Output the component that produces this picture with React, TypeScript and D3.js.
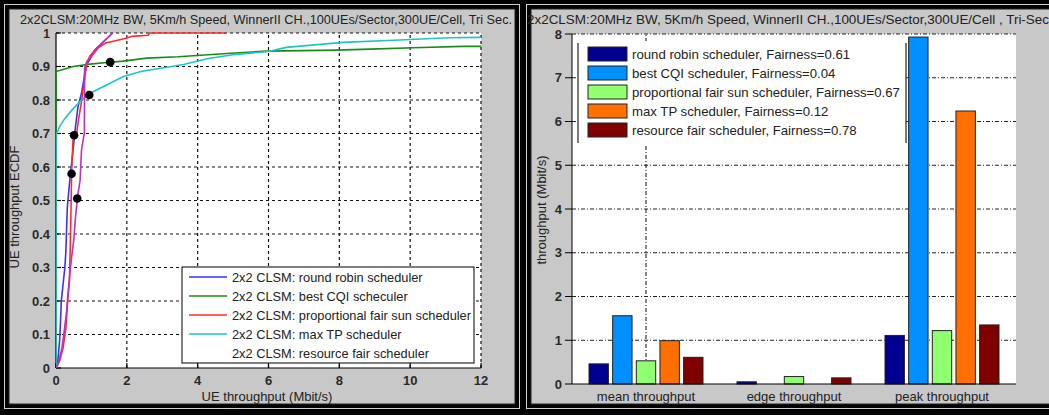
import React from 'react';
import * as d3 from 'd3';

const W = 1049;
const H = 415;
const FONT = '"Liberation Sans", Arial, sans-serif';

const titleLeft = '2x2CLSM:20MHz BW, 5Km/h Speed, WinnerII CH.,100UEs/Sector,300UE/Cell, Tri Sec.';
const titleRight = '2x2CLSM:20MHz BW, 5Km/h Speed, WinnerII CH.,100UEs/Sector,300UE/Cell , Tri-Sec';

// ---------- CDF panel data ----------
const cdfXTicks = [0, 2, 4, 6, 8, 10, 12];
const cdfYTicks = [0, 0.1, 0.2, 0.3, 0.4, 0.5, 0.6, 0.7, 0.8, 0.9, 1];
const cdfYTickLabels = ['0', '0.1', '0.2', '0.3', '0.4', '0.5', '0.6', '0.7', '0.8', '0.9', '1'];
const cdfNames = [
  '2x2 CLSM: round robin scheduler',
  '2x2 CLSM: best CQI scheculer',
  '2x2 CLSM: proportional fair sun scheduler',
  '2x2 CLSM: max TP scheduler',
  '2x2 CLSM: resource fair scheduler',
];
const cdfColors = ['#3333ff', '#1a8a1a', '#ff2a2a', '#20c4c4', '#c030c0'];

const roundRobinCdf: [number, number][] = [
  [0, 0], [0.05, 0.02], [0.1, 0.08], [0.12, 0.12], [0.15, 0.2], [0.2, 0.25], [0.25, 0.3],
  [0.28, 0.35], [0.3, 0.42], [0.32, 0.48], [0.38, 0.55], [0.45, 0.62], [0.5, 0.67],
  [0.55, 0.72], [0.62, 0.78], [0.72, 0.82], [0.8, 0.87], [0.83, 0.9], [0.95, 0.92],
  [1.1, 0.95], [1.3, 0.97], [1.45, 0.985], [1.6, 1.0],
];
const bestCqiCdf: [number, number][] = [
  [0, 0], [0, 0.885], [0.49, 0.9], [0.96, 0.907], [1.43, 0.912], [1.9, 0.916], [2.56, 0.925],
  [3.45, 0.929], [4.83, 0.939], [5.96, 0.946], [7.9, 0.949], [8.87, 0.952], [10.08, 0.956],
  [11.47, 0.96], [12, 0.96],
];
const propFairCdf: [number, number][] = [
  [0, 0], [0.1, 0.02], [0.2, 0.06], [0.28, 0.12], [0.33, 0.2], [0.38, 0.26], [0.4, 0.35],
  [0.42, 0.45], [0.44, 0.58], [0.48, 0.68], [0.58, 0.7], [0.65, 0.75], [0.72, 0.795],
  [0.82, 0.875], [0.88, 0.91], [0.95, 0.93], [1.1, 0.95], [1.4, 0.97], [1.8, 0.98],
  [2.0, 0.985], [2.15, 0.99], [2.6, 0.993], [2.65, 1.0], [4.8, 1.0],
];
const maxTpCdf: [number, number][] = [
  [0, 0], [0, 0.7], [0.02, 0.7], [0.1, 0.72], [0.25, 0.745], [0.49, 0.775], [0.72, 0.8],
  [0.96, 0.82], [1.43, 0.845], [1.9, 0.87], [2.4, 0.885], [3.6, 0.906], [4.3, 0.924],
  [5.0, 0.935], [6.0, 0.945], [6.5, 0.957], [8.1, 0.972], [9.7, 0.979], [11.1, 0.986],
  [12, 0.987],
];
const resFairCdf: [number, number][] = [
  [0, 0], [0.05, 0.01], [0.16, 0.055], [0.22, 0.1], [0.3, 0.17], [0.36, 0.25], [0.44, 0.33],
  [0.5, 0.38], [0.55, 0.45], [0.58, 0.48], [0.62, 0.52], [0.68, 0.56], [0.72, 0.65],
  [0.78, 0.69], [0.8, 0.7], [0.81, 0.895], [0.87, 0.915], [1.0, 0.93], [1.15, 0.95],
  [1.3, 0.97], [1.45, 0.985], [1.6, 1.0],
];
const cdfSeries = [roundRobinCdf, bestCqiCdf, propFairCdf, maxTpCdf, resFairCdf];
// mean-throughput markers [Mbit/s, CDF]
const meanMarkers: [number, number][] = [
  [0.51, 0.695], [1.53, 0.913], [0.44, 0.58], [0.94, 0.815], [0.6, 0.506],
];

// ---------- Bar panel data ----------
const categories = ['mean throughput', 'edge throughput', 'peak throughput'];
const barNames = [
  'round robin scheduler, Fairness=0.61',
  'best CQI scheduler, Fairness=0.04',
  'proportional fair sun scheduler, Fairness=0.67',
  'max TP scheduler, Fairness=0.12',
  'resource fair scheduler, Fairness=0.78',
];
const barColors = ['#000090', '#0090ff', '#90ff70', '#ff7000', '#800000'];
const roundRobinBars = [0.46, 0.05, 1.11];
const bestCqiBars = [1.56, 0, 7.93];
const propFairBars = [0.53, 0.17, 1.22];
const maxTpBars = [0.99, 0, 6.24];
const resFairBars = [0.61, 0.14, 1.35];
const barValues = [roundRobinBars, bestCqiBars, propFairBars, maxTpBars, resFairBars];
const barYTicks = [0, 1, 2, 3, 4, 5, 6, 7, 8];

function Frame({ x0, x1 }: { x0: number; x1: number }) {
  return (
    <g>
      <rect x={x0 + 4.5} y={4.5} width={x1 - x0 - 9} height={H - 11} fill="none" stroke="#d0d0d0" strokeWidth={1} />
      <rect x={x0 + 9} y={9} width={x1 - x0 - 18} height={H - 20} fill="#c8c8c8" stroke="#202020" strokeWidth={1} />
    </g>
  );
}

function CdfPanel() {
  const x = d3.scaleLinear().domain([0, 12]).range([56, 481]);
  const y = d3.scaleLinear().domain([0, 1]).range([368, 33]);
  const line = d3.line<[number, number]>().x((d) => x(d[0])).y((d) => y(d[1]));
  const legY = [277, 296, 315, 334, 353];
  return (
    <g>
      <text x={20} y={23.5} fontSize={12} fill="#222" textLength={492} lengthAdjust="spacingAndGlyphs">{titleLeft}</text>
      <rect x={x(0)} y={y(1)} width={x(12) - x(0)} height={y(0) - y(1)} fill="#fff" />
      <defs>
        <clipPath id="cdfclip">
          <rect x={x(0)} y={y(1) - 1} width={x(12) - x(0)} height={y(0) - y(1) + 1} />
        </clipPath>
      </defs>
      {cdfXTicks.filter((t) => t > 0).map((t) => (
        <line key={'gx' + t} x1={x(t)} x2={x(t)} y1={y(0)} y2={y(1)} stroke="#111" strokeWidth={1.2} strokeDasharray="3,3" />
      ))}
      {cdfYTicks.filter((t) => t > 0).map((t) => (
        <line key={'gy' + t} x1={x(0)} x2={x(12)} y1={y(t)} y2={y(t)} stroke="#111" strokeWidth={1.2} strokeDasharray="3,3" />
      ))}
      <line x1={x(0)} x2={x(0)} y1={y(0)} y2={y(1)} stroke="#000" strokeWidth={1.2} />
      <line x1={x(0)} x2={x(12)} y1={y(0)} y2={y(0)} stroke="#000" strokeWidth={1.2} />
      {cdfYTicks.map((t) => (
        <line key={'ty' + t} x1={x(0)} x2={x(0) + 5} y1={y(t)} y2={y(t)} stroke="#000" strokeWidth={1.2} />
      ))}
      {cdfXTicks.map((t) => (
        <line key={'tx' + t} x1={x(t)} x2={x(t)} y1={y(0)} y2={y(0) - 5} stroke="#000" strokeWidth={1.2} />
      ))}
      <g clipPath="url(#cdfclip)">
        {cdfSeries.map((s, i) => (
          <path key={'c' + i} d={line(s) || ''} fill="none" stroke={cdfColors[i]} strokeWidth={1.6} />
        ))}
      </g>
      {meanMarkers.map((m, i) => (
        <circle key={'m' + i} cx={x(m[0])} cy={y(m[1])} r={4.3} fill="#000" />
      ))}
      {cdfYTicks.map((t, i) => (
        <text key={'ly' + t} x={50} y={y(t) + 4.5} fontSize={t === 1 ? 12 : 13} fontWeight="bold" fill="#2a2a2a" textAnchor="end">{cdfYTickLabels[i]}</text>
      ))}
      {cdfXTicks.map((t) => (
        <text key={'lx' + t} x={x(t)} y={385} fontSize={13} fontWeight="bold" fill="#2a2a2a" textAnchor="middle">{t}</text>
      ))}
      <text x={267} y={401} fontSize={13} fill="#222" textAnchor="middle">UE throughput (Mbit/s)</text>
      <text transform="translate(19,207) rotate(-90)" fontSize={13} fill="#222" textAnchor="middle">UE throughput ECDF</text>
      <rect x={182} y={267} width={292} height={96} fill="#fff" stroke="#000" strokeWidth={1} />
      {cdfNames.map((n, i) => (
        <g key={'lg' + i}>
          {i < 4 && <line x1={189} x2={227} y1={legY[i]} y2={legY[i]} stroke={cdfColors[i]} strokeWidth={1.6} />}
          <text x={232} y={legY[i] + 4.5} fontSize={12.8} fill="#222">{n}</text>
        </g>
      ))}
    </g>
  );
}

function BarPanel() {
  const x = d3.scaleBand<string>().domain(categories).range([572, 1016]).padding(0);
  const bw = x.bandwidth();
  const inner = d3.scaleBand<number>().domain(barNames.map((_, i) => i)).range([bw / 2 - 57, bw / 2 + 57]).paddingInner(0.18).paddingOuter(0);
  const y = d3.scaleLinear().domain([0, 8]).range([384, 34]);
  const legY = [54, 73, 92, 111, 130];
  const meanCx = (x(categories[0]) || 0) + bw / 2;
  return (
    <g>
      <text x={527} y={23.5} fontSize={12.5} fill="#222" textLength={522} lengthAdjust="spacingAndGlyphs">{titleRight}</text>
      <rect x={572} y={y(8)} width={1016 - 572} height={y(0) - y(8)} fill="#fff" />
      {barYTicks.filter((t) => t > 0).map((t) => (
        <line key={'gy' + t} x1={572} x2={1016} y1={y(t)} y2={y(t)} stroke="#222" strokeWidth={1.1} strokeDasharray="4,2,1,2" />
      ))}
      <line x1={meanCx} x2={meanCx} y1={y(0)} y2={y(8)} stroke="#222" strokeWidth={1.1} strokeDasharray="4,2,1,2" />
      {categories.map((c, ci) => (
        <g key={c}>
          {barValues.map((vals, si) => (
            <rect key={si} x={(x(c) || 0) + (inner(si) || 0)} y={y(vals[ci])} width={inner.bandwidth()} height={y(0) - y(vals[ci])}
              fill={barColors[si]} stroke="#222" strokeWidth={1} />
          ))}
        </g>
      ))}
      <line x1={572} x2={572} y1={y(0)} y2={y(8)} stroke="#000" strokeWidth={1} />
      <line x1={572} x2={1016} y1={y(0)} y2={y(0)} stroke="#000" strokeWidth={1.2} />
      {barYTicks.map((t) => (
        <g key={'t' + t}>
          <line x1={565} x2={572} y1={y(t)} y2={y(t)} stroke="#000" strokeWidth={1} />
          <text x={562} y={y(t) + 4.5} fontSize={13} fontWeight="bold" fill="#2a2a2a" textAnchor="end">{t}</text>
        </g>
      ))}
      {categories.map((c) => (
        <text key={'cl' + c} x={(x(c) || 0) + bw / 2} y={401} fontSize={13} fill="#222" textAnchor="middle">{c}</text>
      ))}
      <text transform="translate(546,210) rotate(-90)" fontSize={13} fill="#222" textAnchor="middle">throughput (Mbit/s)</text>
      <rect x={578} y={41} width={328} height={103} fill="#fff" />
      <line x1={578} x2={578} y1={43} y2={143} stroke="#222" strokeWidth={1.2} />
      <line x1={906} x2={906} y1={43} y2={143} stroke="#222" strokeWidth={1.2} />
      {barNames.map((n, i) => (
        <g key={'bl' + i}>
          <rect x={588} y={legY[i] - 7} width={39} height={14} fill={barColors[i]} stroke="#222" strokeWidth={1} />
          <text x={632} y={legY[i] + 4.5} fontSize={13.2} fill="#222">{n}</text>
        </g>
      ))}
    </g>
  );
}

export default function App() {
  return (
    <svg width={W} height={H} viewBox={`0 0 ${W} ${H}`} style={{ position: 'absolute', left: 0, top: 0, fontFamily: FONT }}>
      <rect x={0} y={0} width={W} height={H} fill="#000" />
      <Frame x0={0} x1={524} />
      <Frame x0={522} x1={W + 20} />
      <CdfPanel />
      <BarPanel />
    </svg>
  );
}
